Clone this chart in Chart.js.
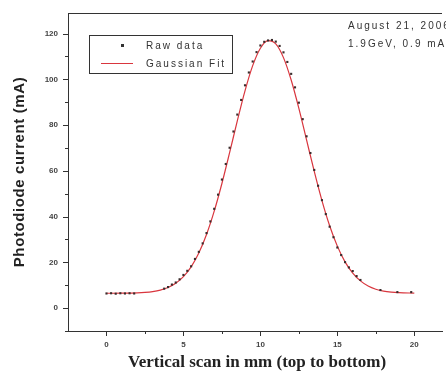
<!DOCTYPE html>
<html>
<head>
<meta charset="utf-8">
<script src="https://cdn.jsdelivr.net/npm/chart.js@4/dist/chart.umd.min.js"></script>
<style>
  body { margin: 0; background: #fff; }
  canvas { display: block; }
</style>
</head>
<body>
<canvas id="scanChart" width="446" height="376"></canvas>
<script>
// Raw photodiode readings (mm, mA)
const rawX = [0, 0.3, 0.6, 0.9, 1.2, 1.5, 1.8,
  3.75, 4, 4.25, 4.5, 4.75, 5, 5.25, 5.5, 5.75, 6, 6.25, 6.5, 6.75, 7, 7.25, 7.5, 7.75, 8,
  8.25, 8.5, 8.75, 9, 9.25, 9.5, 9.75, 10, 10.25, 10.5, 10.75, 11, 11.25, 11.5, 11.75, 12,
  12.25, 12.5, 12.75, 13, 13.25, 13.5, 13.75, 14, 14.25, 14.5, 14.75, 15, 15.25, 15.5, 15.75,
  16, 16.25, 16.5, 17.8, 18.9, 19.8];
const rawY = [6.4, 6.5, 6.3, 6.5, 6.4, 6.5, 6.4,
  8.5, 9.2, 10.3, 11.2, 12.6, 14.5, 16.3, 18.3, 21.5, 24.6, 28.3, 32.8, 37.9, 43.4, 49.6, 56.2, 63.0, 70.1,
  77.2, 84.6, 91.0, 97.4, 103.0, 107.8, 111.9, 114.8, 116.4, 117.0, 117.2, 116.5, 114.6, 111.8, 107.6, 102.4,
  96.5, 89.8, 82.6, 75.1, 67.8, 60.4, 53.5, 47.2, 41.1, 35.6, 31.0, 26.5, 23.2, 20.1, 17.8,
  16.2, 14.0, 12.3, 7.9, 7.0, 7.0];

// Gaussian fit curve
const fitX = [0, 1, 2, 2.5, 3, 3.5, 4, 4.5, 5, 5.5, 6, 6.5, 7, 7.5, 8, 8.5, 9, 9.5, 10, 10.5,
  11, 11.5, 12, 12.5, 13, 13.5, 14, 14.5, 15, 15.5, 16, 16.5, 17, 17.5, 18, 18.5, 19, 20];
const fitY = [6.5, 6.54, 6.68, 6.87, 7.23, 7.89, 9.02, 10.87, 13.76, 18.06, 24.1, 32.18, 42.38, 54.48, 67.95, 81.84, 94.98, 105.98, 113.6, 116.9,
  115.5, 109.5, 99.7, 87.3, 73.5, 59.75, 47.0, 36.0, 27.1, 20.2, 15.3, 11.9, 9.66, 8.27, 7.45, 6.99, 6.74, 6.55];

// tick labels
const xMajorTicks = [0, 5, 10, 15, 20];
const xMinorTicks = [2.5, 7.5, 12.5, 17.5];
const yMajorTicks = [0, 20, 40, 60, 80, 100, 120];
const yMinorTicks = [-10, 10, 30, 50, 70, 90, 110];

const rawPoints = rawX.map((x, i) => ({ x: x, y: rawY[i] }));
const fitPoints = fitX.map((x, i) => ({ x: x, y: fitY[i] }));

const axisColor = '#333333';
const fitColor = '#d9363e';

// draws tick marks, top frame, axis titles, legend box and note
const decorations = {
  id: 'decorations',
  afterDraw(chart) {
    const c = chart.ctx;
    const a = chart.chartArea;
    const xs = chart.scales.x;
    const ys = chart.scales.y;
    c.save();
    c.strokeStyle = axisColor;
    c.lineWidth = 1;
    c.beginPath();
    c.moveTo(a.left, a.top + 0.5);
    c.lineTo(a.right, a.top + 0.5);
    xMajorTicks.forEach(v => {
      const px = Math.round(xs.getPixelForValue(v)) + 0.5;
      c.moveTo(px, a.bottom); c.lineTo(px, a.bottom + 5);
    });
    xMinorTicks.forEach(v => {
      const px = Math.round(xs.getPixelForValue(v)) + 0.5;
      c.moveTo(px, a.bottom); c.lineTo(px, a.bottom + 3);
    });
    yMajorTicks.forEach(v => {
      const py = Math.round(ys.getPixelForValue(v)) + 0.5;
      c.moveTo(a.left, py); c.lineTo(a.left - 5, py);
    });
    yMinorTicks.forEach(v => {
      const py = Math.round(ys.getPixelForValue(v)) + 0.5;
      c.moveTo(a.left, py); c.lineTo(a.left - 3, py);
    });
    c.stroke();

    // axis titles
    c.fillStyle = '#222222';
    c.textAlign = 'center';
    c.textBaseline = 'middle';
    c.font = 'bold 17px "Liberation Serif", serif';
    c.fillText('Vertical scan in mm (top to bottom)', 257, 363);
    c.save();
    c.translate(20, 172);
    c.rotate(-Math.PI / 2);
    c.font = 'bold 15px "Liberation Sans", Arial, sans-serif';
    c.letterSpacing = '0.6px';
    c.fillText('Photodiode current (mA)', 0, 0);
    c.restore();

    // legend
    c.strokeStyle = axisColor;
    c.strokeRect(89.5, 35.5, 143, 38);
    c.fillStyle = '#333333';
    c.fillRect(121, 44, 3, 3);
    c.strokeStyle = fitColor;
    c.beginPath();
    c.moveTo(101, 63.5); c.lineTo(133, 63.5);
    c.stroke();
    c.font = '10px "Liberation Sans", Arial, sans-serif';
    c.letterSpacing = '2px';
    c.textAlign = 'left';
    c.fillStyle = '#333333';
    c.fillText(chart.data.datasets[0].label, 146, 46);
    c.fillText(chart.data.datasets[1].label, 146, 64);

    // note in the corner
    c.fillText('August 21, 2006', 348, 26);
    c.fillText('1.9GeV, 0.9 mA', 348, 44);
    c.restore();
  }
};

new Chart(document.getElementById('scanChart'), {
  type: 'scatter',
  data: {
    datasets: [{
      label: 'Raw data',
      data: rawPoints,
      pointStyle: 'rect',
      pointRadius: 1.5,
      backgroundColor: '#3a2c2c',
      borderColor: '#3a2c2c',
      borderWidth: 0,
      showLine: false
    }, {
      label: 'Gaussian Fit',
      data: fitPoints,
      showLine: true,
      borderColor: fitColor,
      borderWidth: 1.2,
      pointRadius: 0,
      tension: 0.4,
      cubicInterpolationMode: 'monotone'
    }]
  },
  plugins: [decorations],
  options: {
    responsive: false,
    animation: false,
    layout: {
      padding: { top: 13, right: 0, left: 0, bottom: 0 }
    },
    plugins: {
      legend: { display: false },
      tooltip: { enabled: false }
    },
    scales: {
      x: {
        type: 'linear',
        min: -2.5,
        max: 21.8,
        afterFit: function(scale) { scale.height = 45; },
        grid: { display: false, drawTicks: true, tickLength: 5 },
        border: { display: true, color: axisColor, width: 1 },
        ticks: {
          stepSize: 2.5,
          includeBounds: false,
          autoSkip: false,
          maxRotation: 0,
          padding: 4,
          color: '#444444',
          font: { size: 8, family: '"Liberation Sans", Arial, sans-serif', weight: 'bold' },
          callback: function(value) {
            return xMajorTicks.includes(value) ? String(value) : '';
          }
        }
      },
      y: {
        type: 'linear',
        min: -10,
        max: 129,
        afterFit: function(scale) { scale.width = 68; },
        grid: { display: false, drawTicks: true, tickLength: 5 },
        border: { display: true, color: axisColor, width: 1 },
        ticks: {
          stepSize: 10,
          includeBounds: false,
          autoSkip: false,
          padding: 5,
          color: '#444444',
          font: { size: 8, family: '"Liberation Sans", Arial, sans-serif', weight: 'bold' },
          callback: function(value) {
            return yMajorTicks.includes(value) ? String(value) : '';
          }
        }
      }
    }
  }
});
</script>
</body>
</html>
